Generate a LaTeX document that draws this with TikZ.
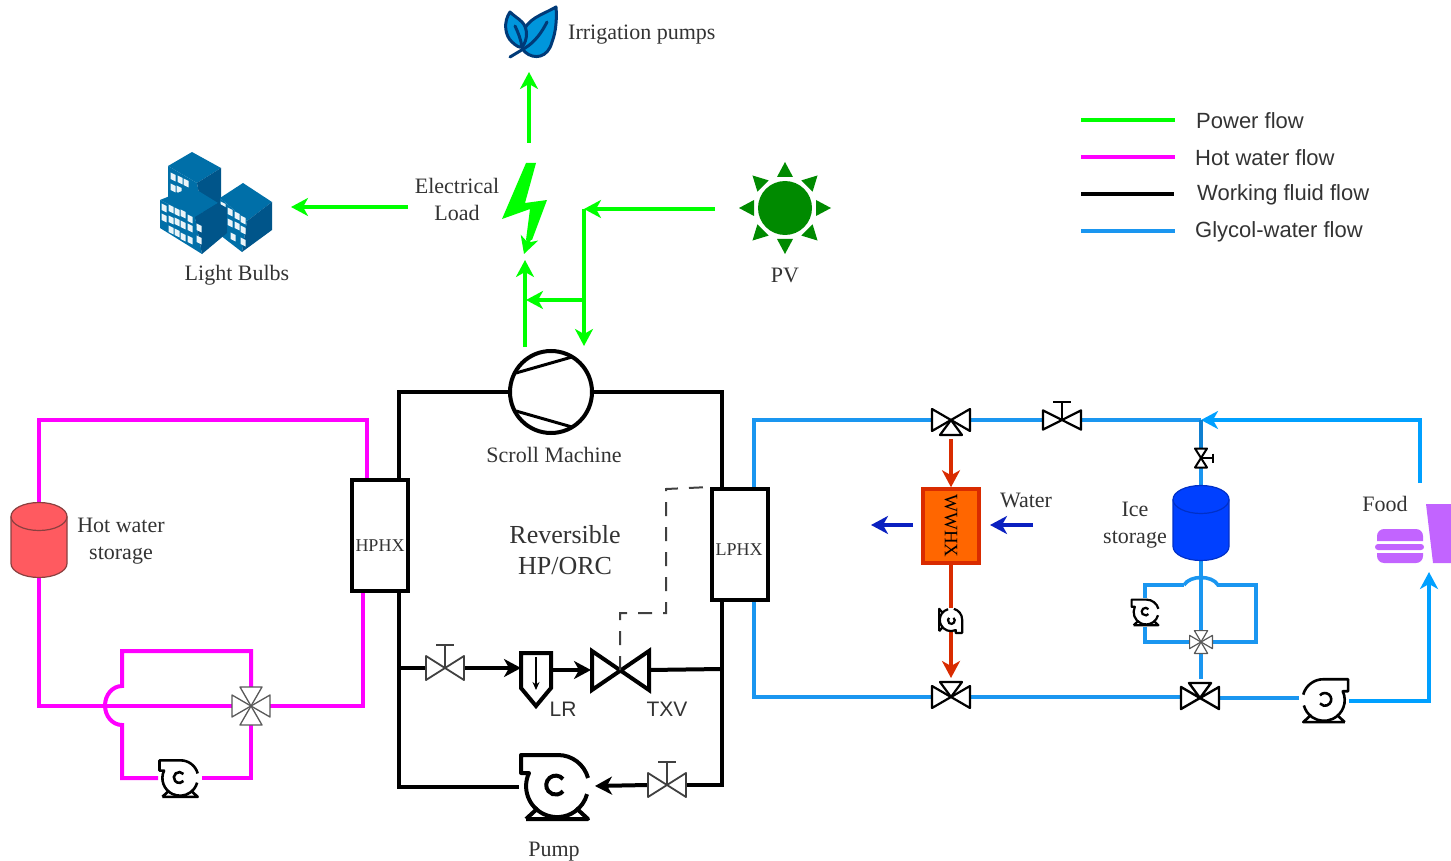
\documentclass[tikz,border=0pt]{standalone}
\usepackage{fontspec}
\setmainfont{Liberation Serif}
\newfontfamily\sansf{Liberation Sans}
\usetikzlibrary{arrows.meta,shapes.geometric}
\pgfdeclarelayer{bg}
\pgfsetlayers{bg,main}
\definecolor{gflow}{HTML}{00FF00}
\definecolor{mflow}{HTML}{FF00FF}
\definecolor{cflow}{HTML}{1A96F0}
\definecolor{cdark}{HTML}{0F7FD0}
\definecolor{cfood}{HTML}{00A0FF}
\definecolor{rflow}{HTML}{D92B00}
\definecolor{wflow}{HTML}{0A20C0}
\definecolor{txtc}{HTML}{333333}
\definecolor{violet}{HTML}{C264FF}
\definecolor{sung}{HTML}{008A00}
\definecolor{bldA}{HTML}{006FA8}
\definecolor{bldB}{HTML}{00558A}
\definecolor{leafF}{HTML}{0096DC}
\definecolor{leafL}{HTML}{003A78}
\definecolor{hotF}{HTML}{FF5A60}
\definecolor{hotL}{HTML}{8A4040}
\definecolor{iceF}{HTML}{0040FF}
\definecolor{iceL}{HTML}{0030C8}
\definecolor{wwF}{HTML}{FF6600}
\tikzset{
  hit/.style={inner sep=0pt,outer sep=0pt,minimum width=#1,minimum height=#1},
  rhit/.style={circle,inner sep=0pt,outer sep=0pt,minimum size=#1},
  lbl/.style={text=txtc,font=\fontsize{22}{27}\selectfont,align=center,inner sep=0pt},
  slbl/.style={text=txtc,font=\sansf\fontsize{22}{25}\selectfont,anchor=west,inner sep=0pt},
  hxbox/.style={draw=black,line width=4pt,fill=white,minimum width=56pt,inner sep=0pt},
  hxtxt/.style={text=txtc,font=\fontsize{18}{20}\selectfont,inner sep=0pt},
  gtip/.style={-{Stealth[length=17pt,width=18pt,inset=5pt]}},
  gpipe/.style={draw=gflow,line width=4pt},
  mpipe/.style={draw=mflow,line width=4pt},
  kpipe/.style={draw=black,line width=4pt},
  cpipe/.style={draw=cflow,line width=3.6pt},
  rpipe/.style={draw=rflow,line width=3.6pt},
  wpipe/.style={draw=wflow,line width=4pt},
  pics/pumpsym/.style={code={
    \draw[line join=round] (31,-8) arc[start angle=-15,end angle=-90,radius=31] -- (-36,-31) -- (-36,-13) -- (-28,-13)
       arc[start angle=205,end angle=15,radius=31];
    \draw (6,-7) arc[start angle=-40,end angle=-320,radius=9.5];
    \draw[line join=round] (-31,33) -- (31,33) -- (19,22) (-31,33) -- (-19,22);
  }},
  pics/gatevalve/.style={code={
    \draw[line join=round,fill=white] (-19,-12) -- (0,0) -- (-19,12) -- cycle;
    \draw[line join=round,fill=white] (19,-12) -- (0,0) -- (19,12) -- cycle;
    \draw (0,0) -- (0,-23) (-9,-23) -- (9,-23);
  }},
  pics/threeway/.style={code={
    \draw[line join=round,fill=white] (-19,-11) -- (0,0) -- (-19,11) -- cycle;
    \draw[line join=round,fill=white] (19,-11) -- (0,0) -- (19,11) -- cycle;
    \draw[line join=round,fill=white] (0,0) -- (-11,15) -- (11,15) -- cycle;
  }},
  pics/fourway/.style={code={
    \foreach \a in {0,90,180,270}{
      \draw[rotate=\a,line join=round,fill=white] (0,0) -- (19,-11) -- (19,11) -- cycle;
    }
  }},
  pics/tanksym/.style n args={2}{code={
    \draw[fill=#1,draw=#2,line width=1.2pt] (-28,-23.5) -- (-28,23.5)
      arc[start angle=180,end angle=0,x radius=28,y radius=14] -- (28,-23.5)
      arc[start angle=0,end angle=-180,x radius=28,y radius=14] -- cycle;
    \draw[draw=#2,line width=1.2pt] (-28,-23.5) arc[start angle=180,end angle=0,x radius=28,y radius=14];
  }},
}
\newcommand{\winbox}[2]{\fill[white!92!bldA] (#1-2.5,#2-4.5) -- (#1+2.5,#2-2) -- (#1+2.5,#2+4.5) -- (#1-2.5,#2+2) -- cycle;}
\begin{document}
\begin{tikzpicture}[x=1pt,y=-1pt]
\useasboundingbox (0,0) rectangle (1451,861);

% ---------- text labels
\node[lbl,anchor=west] (irr) at (568,35) {Irrigation pumps};
\node[lbl] (eload) at (457,199.5) {Electrical\\Load};
\node[lbl] (lbulb) at (237,275.5) {Light Bulbs};
\node[lbl] (pvl) at (785,275) {PV};
\node[lbl] (scroll) at (554,455) {Scroll Machine};
\node[lbl,font=\fontsize{26}{31}\selectfont] (rev) at (565,550.5) {Reversible\\HP/ORC};
\node[lbl] (hws) at (121,541.5) {Hot water\\storage};
\node[lbl] (water) at (1026,500.5) {Water};
\node[lbl] (ice) at (1135,525) {Ice\\storage};
\node[lbl] (food) at (1385,504) {Food};
\node[lbl] (pumpl) at (554,852) {Pump};
\node[lbl,font=\sansf\fontsize{21}{25}\selectfont] (lrl) at (563,709) {LR};
\node[lbl,font=\sansf\fontsize{21}{25}\selectfont] (txvl) at (667,709) {TXV};

% ---------- heat exchangers
\node[hxbox,minimum height=111pt] (hp) at (380,535.5) {};
\node[hxtxt] (hpt) at (380,546) {HPHX};
\node[hxbox,minimum height=111pt] (lp) at (740,544.5) {};
\node[hxtxt] (lpt) at (739,550) {LPHX};
\node[draw=rflow,line width=3.5pt,fill=wwF,text=black,rotate=-90,inner sep=0pt,font=\fontsize{19}{20}\selectfont,minimum width=74pt,minimum height=56pt] (ww) at (951,526) {WWHX};

% ---------- equipment anchors
\node[rhit=84pt] (comp) at (551,392) {};
\node[rhit=76pt] (pmain) at (557,786) {};
\node[rhit=44pt] (pm) at (180,778) {};
\node[rhit=29pt] (pice) at (1146,612) {};
\node[rhit=24pt] (pww) at (951,620) {};
\node[rhit=50pt] (pgly) at (1324,700) {};
\node[hit=38pt] (v1) at (445,668) {};
\node[hit=38pt] (v2) at (667,785) {};
\node[hit=38pt] (v3) at (1062,420) {};
\node[hit=38pt] (tw1) at (951,420) {};
\node[hit=38pt] (tw2) at (951,697) {};
\node[hit=38pt] (tw3) at (1200,698) {};
\node[hit=38pt] (fw1) at (251,706) {};
\node[hit=23pt] (fw2) at (1201,642) {};
\node[hit=19pt] (v4) at (1201,458) {};
\node[inner sep=0pt,outer sep=0pt,minimum width=30pt,minimum height=53pt] (lr) at (536,680) {};
\node[inner sep=0pt,outer sep=0pt,minimum width=58pt,minimum height=40pt] (txv) at (620,670) {};
\node[inner sep=0pt,outer sep=0pt,minimum width=56pt,minimum height=75pt] (hwt) at (39,540) {};
\node[inner sep=0pt,outer sep=0pt,minimum width=56pt,minimum height=74pt] (itk) at (1201,523) {};

% ---------- symbols
\draw[line width=4pt,fill=white] (comp.center) circle[radius=41];
\draw[line width=3pt] (516,373) -- (572,357) (516,411) -- (572,427);
\pic[line width=4pt,scale=1] at (pmain) {pumpsym};
\pic[line width=2.6pt,scale=.57] at (pm) {pumpsym};
\pic[line width=2.2pt,scale=.4] at (pice) {pumpsym};
\pic[line width=2.2pt,scale=.36,cm={0,1,1,0,(0,0)}] at (pww) {pumpsym};
\pic[line width=2.6pt,scale=.67,xscale=-1] at (pgly) {pumpsym};
\pic[line width=1.8pt,draw=black!75] at (v1) {gatevalve};
\pic[line width=1.8pt,draw=black!75] at (v2) {gatevalve};
\pic[line width=2.2pt,yscale=.8] at (v3) {gatevalve};
\pic[line width=2pt,scale=.5,rotate=-90] at (v4) {gatevalve};
\pic[line width=2.2pt] at (tw1) {threeway};
\pic[line width=2.2pt,yscale=-1] at (tw2) {threeway};
\pic[line width=2.4pt,yscale=-1] at (tw3) {threeway};
\pic[line width=1.3pt,draw=black!65] at (fw1) {fourway};
\pic[line width=1.2pt,draw=black!65,scale=.6] at (fw2) {fourway};
\pic at (hwt) {tanksym={hotF}{hotL}};
\pic at (itk) {tanksym={iceF}{iceL}};
% LR
\draw[line width=4pt,line join=miter] (521,653) -- (551,653) -- (551,688) -- (536,706) -- (521,688) -- cycle;
\draw[line width=2.6pt,-{Stealth[length=8pt,width=7pt]}] (536,657) -- (536,690);
% TXV
\draw[line width=4pt,line join=miter] (592,651) -- (649,690) -- (649,651) -- (592,690) -- cycle;

% ---------- icons
% leaf
\begin{scope}[draw=leafL,line width=3pt,line join=round,line cap=round]
  \draw[fill=leafF] (556,7) .. controls (540,16) and (528,18) .. (522,34) .. controls (520,42) and (522,50) .. (525,52)
     .. controls (534,60) and (548,58) .. (552,42) .. controls (556,32) and (557,18) .. (556,7) -- cycle;
  \draw[fill=leafF] (510,12) .. controls (503,22) and (505,36) .. (512,42) .. controls (516,46) and (520,48) .. (522,47)
     .. controls (528,40) and (528,28) .. (522,22) .. controls (518,18) and (514,16) .. (510,12) -- cycle;
  \draw (510,57) -- (525,48) .. controls (535,42) and (542,32) .. (547,22);
  \draw (515,26) .. controls (518,32) and (521,40) .. (522,47);
\end{scope}
% buildings
\begin{scope}[line join=round]
  \fill[bldA] (192,152) -- (221,168) -- (197,183) -- (168,166) -- cycle;
  \fill[bldA] (168,166) -- (168,204) -- (205,225) -- (197,183) -- cycle;
  \fill[bldB] (197,183) -- (221,168) -- (221,215) -- (205,225) -- cycle;
  \foreach \x/\y in {173/177,180/180,186/183,173/188,179/190}{\winbox{\x}{\y}}
  \fill[bldA] (243,183) -- (272,202) -- (247,221) -- (220,198) -- cycle;
  \fill[bldA] (220,198) -- (220,235) -- (242,252) -- (247,221) -- cycle;
  \fill[bldB] (247,221) -- (272,202) -- (272,230) -- (242,252) -- cycle;
  \foreach \x/\y in {223/206,230/212,237/216,243/220,230/223,237/226,243/230,233/237,243/242}{\winbox{\x}{\y}}
  \fill[bldA] (192,187) -- (218,203) -- (195,217) -- (160,200) -- cycle;
  \fill[bldA] (160,200) -- (160,228) -- (202,254) -- (195,217) -- cycle;
  \fill[bldB] (195,217) -- (218,203) -- (227,208) -- (227,233) -- (202,254) -- cycle;
  \foreach \x/\y in {164/208,171/209,177/212,183/214,190/219,164/218,171/220,177/222,183/225,190/228,171/230,177/233,183/237,190/240,199/228,199/240}{\winbox{\x}{\y}}
\end{scope}
% sun
\fill[sung] (785,208) circle[radius=27];
\foreach \a in {0,45,...,315}{
  \fill[sung,rotate around={\a:(785,208)}] (816,200) -- (831,208) -- (816,216) -- cycle;
}
% lightning
\fill[gflow] (526,163) -- (536,163) -- (525,203) -- (547,200) -- (532,240) -- (526,240) -- (530,209) -- (502,219) -- cycle;
% food
\fill[violet] (1377,541) [rounded corners=7pt] -- (1377,529) -- (1423,529) [sharp corners] -- (1423,541) -- cycle;
\fill[violet,rounded corners=3pt] (1375,544) rectangle (1424,550);
\fill[violet] (1377,553) -- (1423,553) [rounded corners=7pt] -- (1423,563) -- (1377,563) [sharp corners] -- cycle;
\fill[violet] (1426,504) -- (1451,504) -- (1451,563) -- (1433,563) -- cycle;

% ---------- free ends and junctions
\coordinate (lg1) at (1081,120); \coordinate (lg1e) at (1175,120);
\coordinate (lg2) at (1081,157); \coordinate (lg2e) at (1175,157);
\coordinate (lg3) at (1081,194); \coordinate (lg3e) at (1174,194);
\coordinate (lg4) at (1081,231); \coordinate (lg4e) at (1175,231);
\node[slbl] (lt1) at (1196,121) {Power flow};
\node[slbl] (lt2) at (1195,157.5) {Hot water flow};
\node[slbl] (lt3) at (1197,195) {Working fluid flow};
\node[slbl] (lt4) at (1195,232) {Glycol-water flow};

\coordinate (gUpS) at (529,143); \coordinate (gUpE) at (529,72);
\coordinate (gLfS) at (408,207); \coordinate (gLfE) at (291,207);
\coordinate (gBoltS) at (530,236); \coordinate (gBoltE) at (524,254);
\coordinate (gBot) at (525,347); \coordinate (gIn) at (525,260);
\coordinate (gPV) at (715,209); \coordinate (gC) at (584,209);
\coordinate (gCE) at (584,346); \coordinate (gT) at (584,300); \coordinate (gTE) at (526,300);

\coordinate (kTL) at (399,392); \coordinate (kTR) at (722,392);
\coordinate (kBL) at (399,787); \coordinate (kBR) at (722,785);
\coordinate (kJL) at (399,668); \coordinate (kJR) at (722,669);

\coordinate (mTL) at (39,420); \coordinate (mTR) at (367,420);
\coordinate (mBL) at (39,706); \coordinate (mBR) at (363,706);
\coordinate (mU1) at (251,651); \coordinate (mU2) at (122,651); \coordinate (mB1) at (122,686);
\coordinate (mB2) at (122,725); \coordinate (mB3) at (122,778); \coordinate (mB4) at (251,778);

\coordinate (cTL) at (754,420); \coordinate (cBL) at (754,697);
\coordinate (cTR) at (1420,420); \coordinate (cJ) at (1201,420); \coordinate (cFoodT) at (1420,483);
\coordinate (cBR) at (1429,701); \coordinate (cFoodB) at (1429,572);
\coordinate (iL1) at (1145,585); \coordinate (iL2) at (1145,642); \coordinate (iR1) at (1256,585); \coordinate (iR2) at (1256,642);
\coordinate (iH1) at (1184,585); \coordinate (iH2) at (1218,585);

\coordinate (wR1) at (1033,525); \coordinate (wR2) at (990,525);
\coordinate (wL1) at (913,525); \coordinate (wL2) at (871,525);

% ---------- connectors
\begin{pgfonlayer}{bg}
  \draw[gpipe] (lg1) -- (lg1e);
  \draw[mpipe] (lg2) -- (lg2e);
  \draw[kpipe] (lg3) -- (lg3e);
  \draw[cpipe,line width=4pt] (lg4) -- (lg4e);

  \draw[gpipe,gtip] (gUpS) -- (gUpE);
  \draw[gpipe,gtip] (gLfS) -- (gLfE);
  \draw[gpipe,gtip] (gBoltS) -- (gBoltE);
  \draw[gpipe,gtip] (gBot) -- (gIn);
  \draw[gpipe,gtip] (gPV) -- (gC);
  \draw[gpipe,gtip] (gC) -- (gCE);
  \draw[gpipe,gtip] (gT) -- (gTE);

  \draw[kpipe] (hp.north -| kTL) -- (kTL) -- (comp.west |- kTL);
  \draw[kpipe] (comp.east |- kTR) -- (kTR) -- (kTR |- lp.north);
  \draw[kpipe] (kTL |- hp.south) -- (kBL) -- (pmain.west |- kBL);
  \draw[kpipe] (kTR |- lp.south) -- (kBR) -- (v2.east);
  \draw[kpipe,gtip] (v2.west) -- (pmain.east);
  \draw[kpipe] (kJL) -- (v1.west);
  \draw[kpipe,gtip] (v1.east) -- (lr.west |- v1.east);
  \draw[kpipe,gtip] (lr.east |- txv) -- (txv.west);
  \draw[kpipe] (txv.east) -- (kJR);

  \draw[mpipe] (hwt.north) -- (mTL) -- (mTR) -- (mTR |- hp.north);
  \draw[mpipe] (hwt.south) -- (mBL) -- (fw1.west);
  \draw[mpipe] (fw1.east) -- (mBR) -- (mBR |- hp.south);
  \draw[mpipe] (fw1.north) -- (mU1) -- (mU2) -- (mB1)
     arc[start angle=-90,end angle=-270,x radius=17,y radius=19.5] -- (mB3) -- (pm.west |- mB3);
  \draw[mpipe] (pm.east |- mB4) -- (mB4) -- (fw1.south);

  \draw[cpipe] (lp.north -| cTL) -- (cTL) -- (tw1.west);
  \draw[cpipe] (tw1.east) -- (v3.west);
  \draw[cpipe] (v3.east) -- (cJ);
  \draw[cpipe,draw=cfood,gtip] (cFoodT) -- (cTR) -- (cJ);
  \draw[cpipe,draw=cdark] (cJ) -- (v4.north);
  \draw[cpipe] (v4.south) -- (itk.north);
  \draw[cpipe] (itk.south) -- (fw2.north);
  \draw[cpipe] (fw2.south) -- (tw3.north -| fw2);
  \draw[cpipe] (iH1) .. controls (1190,575) and (1212,575) .. (iH2) -- (iR1) -- (iR2) -- (fw2.east);
  \draw[cpipe] (iH1) -- (iL1) -- (pice.north -| iL1);
  \draw[cpipe] (pice.south -| iL2) -- (iL2) -- (fw2.west);
  \draw[cpipe] (lp.south -| cBL) -- (cBL) -- (tw2.west);
  \draw[cpipe] (tw2.east) -- (tw2.east -| tw3.west);
  \draw[cpipe] (tw3.east) -- (tw3.east -| pgly.west);
  \draw[cpipe,draw=cfood,gtip] (pgly.east |- cBR) -- (cBR) -- (cFoodB);

  \draw[rpipe,gtip] (tw1.south) -- (ww.west);
  \draw[rpipe] (ww.east) -- (pww.north);
  \draw[rpipe,gtip] (pww.south) -- (tw2.north);

  \draw[wpipe,gtip] (wR1) -- (wR2);
  \draw[wpipe,gtip] (wL1) -- (wL2);
\end{pgfonlayer}
\coordinate (dA) at (620,613); \coordinate (dB) at (666,613); \coordinate (dC) at (666,489);
\draw[draw=black!75,line width=2pt,dash pattern=on 14pt off 11pt] (txv.center) -- (dA) -- (dB) -- (dC) -- (lp.north west);
\end{tikzpicture}
\end{document}
